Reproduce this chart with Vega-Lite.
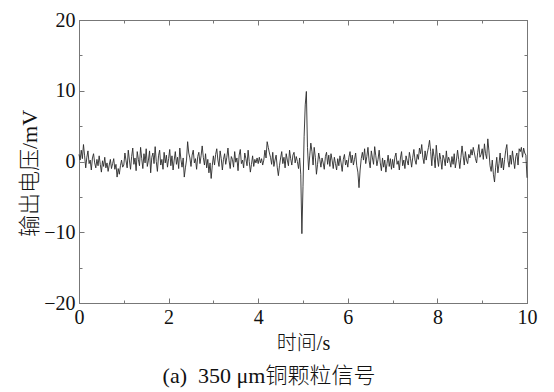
{
 "$schema": "https://vega.github.io/schema/vega-lite/v6.json",
 "width": 448, "height": 283,
 "autosize": "none",
 "padding": {"left": 79, "top": 20, "right": 27, "bottom": 89},
 "background": "white",
 "config": {
  "view": {"stroke": "#777", "strokeWidth": 1},
  "axis": {
   "grid": false, "domainColor": "#777", "tickColor": "#777",
   "labelFont": "Liberation Serif", "labelFontSize": 20, "labelColor": "#111",
   "titleFont": "Liberation Serif, Noto Sans CJK SC", "titleFontWeight": 300, "titleColor": "#111",
   "labelFlush": false, "labelOverlap": false
  }
 },
 "title": {"text": "(a)\u00a0\u00a0350\u00a0μm铜颗粒信号", "orient": "bottom", "anchor": "middle", "frame": "group", "dx": -34, "offset": 13,
  "font": "Liberation Serif, Noto Sans CJK SC", "fontSize": 22, "fontWeight": 300, "color": "#111"},
 "data": {"values": [
{"t":0,"v":1.0},{"t":0.025,"v":0.2},{"t":0.05,"v":1.6},{"t":0.075,"v":0.4},{"t":0.1,"v":2.4},{"t":0.125,"v":0.8},{"t":0.15,"v":-0.9},{"t":0.175,"v":0.6},{"t":0.2,"v":1.5},{"t":0.225,"v":-0.3},
{"t":0.25,"v":0.2},{"t":0.275,"v":-1.2},{"t":0.3,"v":0.5},{"t":0.325,"v":1.1},{"t":0.35,"v":-0.2},{"t":0.375,"v":-0.9},{"t":0.4,"v":0.3},{"t":0.425,"v":-0.6},{"t":0.45,"v":0.8},{"t":0.475,"v":-0.4},
{"t":0.5,"v":-1.5},{"t":0.525,"v":0.1},{"t":0.55,"v":-0.7},{"t":0.575,"v":0.6},{"t":0.6,"v":-0.9},{"t":0.625,"v":-0.2},{"t":0.65,"v":-1.4},{"t":0.675,"v":-0.5},{"t":0.7,"v":0.3},{"t":0.725,"v":-1.0},
{"t":0.75,"v":-0.3},{"t":0.775,"v":0.4},{"t":0.8,"v":-1.1},{"t":0.825,"v":-0.4},{"t":0.85,"v":-2.2},{"t":0.875,"v":-1.0},{"t":0.9,"v":-1.8},{"t":0.925,"v":-0.6},{"t":0.95,"v":0.2},{"t":0.975,"v":-0.8},
{"t":1,"v":-0.5},{"t":1.025,"v":1.2},{"t":1.05,"v":0.1},{"t":1.075,"v":-0.9},{"t":1.1,"v":1.6},{"t":1.125,"v":0.2},{"t":1.15,"v":-1.1},{"t":1.175,"v":0.7},{"t":1.2,"v":1.9},{"t":1.225,"v":-0.4},
{"t":1.25,"v":0.5},{"t":1.275,"v":-1.3},{"t":1.3,"v":1.4},{"t":1.325,"v":0.3},{"t":1.35,"v":-0.6},{"t":1.375,"v":2.0},{"t":1.4,"v":0.4},{"t":1.425,"v":-1.0},{"t":1.45,"v":1.1},{"t":1.475,"v":-0.2},
{"t":1.5,"v":1.8},{"t":1.525,"v":-0.7},{"t":1.55,"v":0.2},{"t":1.575,"v":1.5},{"t":1.6,"v":-1.6},{"t":1.625,"v":0.6},{"t":1.65,"v":1.2},{"t":1.675,"v":-0.3},{"t":1.7,"v":2.1},{"t":1.725,"v":0.0},
{"t":1.75,"v":-1.4},{"t":1.775,"v":0.8},{"t":1.8,"v":1.6},{"t":1.825,"v":-0.5},{"t":1.85,"v":0.3},{"t":1.875,"v":-1.1},{"t":1.9,"v":1.3},{"t":1.925,"v":-0.2},{"t":1.95,"v":0.9},{"t":1.975,"v":-0.8},
{"t":2,"v":0.4},{"t":2.025,"v":1.7},{"t":2.05,"v":-0.6},{"t":2.075,"v":0.8},{"t":2.1,"v":-1.2},{"t":2.125,"v":0.2},{"t":2.15,"v":1.4},{"t":2.175,"v":-0.4},{"t":2.2,"v":0.6},{"t":2.225,"v":-1.0},
{"t":2.25,"v":1.9},{"t":2.275,"v":0.3},{"t":2.3,"v":-0.8},{"t":2.325,"v":0.5},{"t":2.35,"v":-2.2},{"t":2.375,"v":-0.9},{"t":2.4,"v":0.2},{"t":2.425,"v":2.8},{"t":2.45,"v":1.2},{"t":2.475,"v":0.5},
{"t":2.5,"v":-0.7},{"t":2.525,"v":0.9},{"t":2.55,"v":1.6},{"t":2.575,"v":-0.2},{"t":2.6,"v":0.4},{"t":2.625,"v":-1.1},{"t":2.65,"v":0.7},{"t":2.675,"v":1.3},{"t":2.7,"v":-0.3},{"t":2.725,"v":0.8},
{"t":2.75,"v":2.2},{"t":2.775,"v":0.6},{"t":2.8,"v":-0.5},{"t":2.825,"v":1.1},{"t":2.85,"v":-0.9},{"t":2.875,"v":0.3},{"t":2.9,"v":-1.6},{"t":2.925,"v":-0.2},{"t":2.95,"v":-2.4},{"t":2.975,"v":-0.6},
{"t":3,"v":0.8},{"t":3.025,"v":-0.5},{"t":3.05,"v":1.0},{"t":3.075,"v":1.8},{"t":3.1,"v":0.2},{"t":3.125,"v":-0.7},{"t":3.15,"v":1.5},{"t":3.175,"v":0.4},{"t":3.2,"v":-1.2},{"t":3.225,"v":0.3},
{"t":3.25,"v":1.1},{"t":3.275,"v":-0.4},{"t":3.3,"v":0.6},{"t":3.325,"v":1.9},{"t":3.35,"v":0.1},{"t":3.375,"v":-1.0},{"t":3.4,"v":0.7},{"t":3.425,"v":0.3},{"t":3.45,"v":-0.8},{"t":3.475,"v":1.4},
{"t":3.5,"v":-0.1},{"t":3.525,"v":0.5},{"t":3.55,"v":-1.3},{"t":3.575,"v":0.9},{"t":3.6,"v":1.7},{"t":3.625,"v":-0.3},{"t":3.65,"v":0.2},{"t":3.675,"v":-0.9},{"t":3.7,"v":1.2},{"t":3.725,"v":0.4},
{"t":3.75,"v":-0.6},{"t":3.775,"v":1.6},{"t":3.8,"v":0.0},{"t":3.825,"v":-1.5},{"t":3.85,"v":-0.4},{"t":3.875,"v":0.8},{"t":3.9,"v":-0.7},{"t":3.925,"v":0.3},{"t":3.95,"v":-0.2},{"t":3.975,"v":0.5},
{"t":4,"v":-0.3},{"t":4.025,"v":0.6},{"t":4.05,"v":-0.2},{"t":4.075,"v":0.4},{"t":4.1,"v":-0.5},{"t":4.125,"v":0.2},{"t":4.15,"v":1.6},{"t":4.175,"v":0.5},{"t":4.2,"v":2.8},{"t":4.225,"v":2.0},
{"t":4.25,"v":1.2},{"t":4.275,"v":0.6},{"t":4.3,"v":-0.4},{"t":4.325,"v":1.3},{"t":4.35,"v":-0.7},{"t":4.375,"v":0.2},{"t":4.4,"v":0.9},{"t":4.425,"v":-0.8},{"t":4.45,"v":-2.0},{"t":4.475,"v":-0.6},
{"t":4.5,"v":0.5},{"t":4.525,"v":1.4},{"t":4.55,"v":-0.3},{"t":4.575,"v":0.6},{"t":4.6,"v":-0.9},{"t":4.625,"v":1.1},{"t":4.65,"v":0.2},{"t":4.675,"v":-0.6},{"t":4.7,"v":1.6},{"t":4.725,"v":0.4},
{"t":4.75,"v":-0.5},{"t":4.775,"v":0.9},{"t":4.8,"v":1.3},{"t":4.825,"v":-0.2},{"t":4.85,"v":0.7},{"t":4.875,"v":0.0},{"t":4.9,"v":-1.0},{"t":4.925,"v":0.5},{"t":4.95,"v":-1.8},{"t":4.975,"v":-10.2},
{"t":5,"v":-3.5},{"t":5.025,"v":3.5},{"t":5.05,"v":8.0},{"t":5.075,"v":9.9},{"t":5.1,"v":2.0},{"t":5.125,"v":-1.2},{"t":5.15,"v":0.8},{"t":5.175,"v":2.6},{"t":5.2,"v":1.4},{"t":5.225,"v":-0.5},
{"t":5.25,"v":2.0},{"t":5.275,"v":0.6},{"t":5.3,"v":-1.8},{"t":5.325,"v":-0.4},{"t":5.35,"v":1.2},{"t":5.375,"v":0.3},{"t":5.4,"v":-0.8},{"t":5.425,"v":0.5},{"t":5.45,"v":-0.2},{"t":5.475,"v":-1.1},
{"t":5.5,"v":0.7},{"t":5.525,"v":1.3},{"t":5.55,"v":-0.4},{"t":5.575,"v":0.9},{"t":5.6,"v":-0.7},{"t":5.625,"v":1.1},{"t":5.65,"v":0.2},{"t":5.675,"v":-1.0},{"t":5.7,"v":0.6},{"t":5.725,"v":-0.3},
{"t":5.75,"v":-1.2},{"t":5.775,"v":0.4},{"t":5.8,"v":-0.6},{"t":5.825,"v":0.8},{"t":5.85,"v":-0.2},{"t":5.875,"v":-1.4},{"t":5.9,"v":0.3},{"t":5.925,"v":1.0},{"t":5.95,"v":-0.5},{"t":5.975,"v":0.2},
{"t":6,"v":-0.8},{"t":6.025,"v":0.6},{"t":6.05,"v":1.4},{"t":6.075,"v":-0.2},{"t":6.1,"v":0.9},{"t":6.125,"v":-0.5},{"t":6.15,"v":0.3},{"t":6.175,"v":1.2},{"t":6.2,"v":-0.6},{"t":6.225,"v":-1.5},
{"t":6.25,"v":-3.7},{"t":6.275,"v":-1.2},{"t":6.3,"v":0.4},{"t":6.325,"v":1.3},{"t":6.35,"v":0.2},{"t":6.375,"v":1.8},{"t":6.4,"v":-0.3},{"t":6.425,"v":0.7},{"t":6.45,"v":2.0},{"t":6.475,"v":0.1},
{"t":6.5,"v":-0.9},{"t":6.525,"v":1.5},{"t":6.55,"v":0.5},{"t":6.575,"v":-0.4},{"t":6.6,"v":2.1},{"t":6.625,"v":0.8},{"t":6.65,"v":-0.6},{"t":6.675,"v":0.3},{"t":6.7,"v":1.6},{"t":6.725,"v":-0.2},
{"t":6.75,"v":-1.3},{"t":6.775,"v":0.5},{"t":6.8,"v":-0.8},{"t":6.825,"v":0.2},{"t":6.85,"v":-1.5},{"t":6.875,"v":-0.3},{"t":6.9,"v":0.9},{"t":6.925,"v":-0.7},{"t":6.95,"v":0.4},{"t":6.975,"v":-1.1},
{"t":7,"v":0.3},{"t":7.025,"v":-0.9},{"t":7.05,"v":0.6},{"t":7.075,"v":1.2},{"t":7.1,"v":-0.4},{"t":7.125,"v":0.1},{"t":7.15,"v":-1.2},{"t":7.175,"v":0.5},{"t":7.2,"v":1.4},{"t":7.225,"v":-0.6},
{"t":7.25,"v":0.2},{"t":7.275,"v":-1.0},{"t":7.3,"v":0.8},{"t":7.325,"v":0.1},{"t":7.35,"v":-0.5},{"t":7.375,"v":1.3},{"t":7.4,"v":0.4},{"t":7.425,"v":-0.8},{"t":7.45,"v":0.6},{"t":7.475,"v":1.7},
{"t":7.5,"v":0.2},{"t":7.525,"v":-0.4},{"t":7.55,"v":1.0},{"t":7.575,"v":0.3},{"t":7.6,"v":1.9},{"t":7.625,"v":1.1},{"t":7.65,"v":2.4},{"t":7.675,"v":0.6},{"t":7.7,"v":-0.3},{"t":7.725,"v":1.5},
{"t":7.75,"v":0.2},{"t":7.775,"v":1.2},{"t":7.8,"v":2.0},{"t":7.825,"v":3.0},{"t":7.85,"v":1.4},{"t":7.875,"v":-0.6},{"t":7.9,"v":1.8},{"t":7.925,"v":0.7},{"t":7.95,"v":-0.9},{"t":7.975,"v":2.3},
{"t":8,"v":0.5},{"t":8.025,"v":-0.7},{"t":8.05,"v":1.2},{"t":8.075,"v":0.3},{"t":8.1,"v":-1.1},{"t":8.125,"v":0.9},{"t":8.15,"v":0.4},{"t":8.175,"v":-0.6},{"t":8.2,"v":1.5},{"t":8.225,"v":-0.2},
{"t":8.25,"v":0.6},{"t":8.275,"v":0.1},{"t":8.3,"v":-0.8},{"t":8.325,"v":0.7},{"t":8.35,"v":-0.4},{"t":8.375,"v":1.1},{"t":8.4,"v":-0.9},{"t":8.425,"v":0.2},{"t":8.45,"v":1.6},{"t":8.475,"v":0.3},
{"t":8.5,"v":-1.0},{"t":8.525,"v":0.6},{"t":8.55,"v":2.2},{"t":8.575,"v":0.8},{"t":8.6,"v":-0.5},{"t":8.625,"v":1.4},{"t":8.65,"v":0.2},{"t":8.675,"v":-0.3},{"t":8.7,"v":1.0},{"t":8.725,"v":0.5},
{"t":8.75,"v":1.7},{"t":8.775,"v":0.9},{"t":8.8,"v":2.0},{"t":8.825,"v":1.2},{"t":8.85,"v":0.4},{"t":8.875,"v":-0.2},{"t":8.9,"v":1.3},{"t":8.925,"v":2.4},{"t":8.95,"v":0.6},{"t":8.975,"v":1.0},
{"t":9,"v":1.8},{"t":9.025,"v":0.3},{"t":9.05,"v":2.5},{"t":9.075,"v":1.1},{"t":9.1,"v":0.4},{"t":9.125,"v":3.2},{"t":9.15,"v":1.5},{"t":9.175,"v":-0.6},{"t":9.2,"v":-1.4},{"t":9.225,"v":0.2},
{"t":9.25,"v":-1.8},{"t":9.275,"v":-2.9},{"t":9.3,"v":-0.8},{"t":9.325,"v":0.6},{"t":9.35,"v":-1.6},{"t":9.375,"v":-0.3},{"t":9.4,"v":1.2},{"t":9.425,"v":-0.9},{"t":9.45,"v":0.5},{"t":9.475,"v":-1.2},
{"t":9.5,"v":0.3},{"t":9.525,"v":1.6},{"t":9.55,"v":2.4},{"t":9.575,"v":0.1},{"t":9.6,"v":-0.8},{"t":9.625,"v":0.9},{"t":9.65,"v":-0.4},{"t":9.675,"v":1.5},{"t":9.7,"v":0.2},{"t":9.725,"v":-1.0},
{"t":9.75,"v":0.7},{"t":9.775,"v":1.2},{"t":9.8,"v":-0.5},{"t":9.825,"v":1.8},{"t":9.85,"v":1.4},{"t":9.875,"v":2.0},{"t":9.9,"v":0.6},{"t":9.925,"v":1.9},{"t":9.95,"v":1.2},{"t":9.975,"v":0.9},
{"t":10,"v":-2.3}
 ]},
 "layer": [
  {
   "mark": {"type": "line", "color": "#2a2a2a", "strokeWidth": 0.9},
   "encoding": {
    "x": {"field": "t", "type": "quantitative", "scale": {"domain": [0, 10], "nice": false},
     "axis": {"orient": "bottom", "title": "时间/s", "titleFontSize": 20, "titlePadding": 4,
      "values": [0,1,2,3,4,5,6,7,8,9,10],
      "labelExpr": "datum.value % 2 === 0 ? datum.label : ''",
      "tickSize": {"condition": {"test": "datum.value % 2 === 0", "value": -5}, "value": -3},
      "labelPadding": 9}},
    "y": {"field": "v", "type": "quantitative", "scale": {"domain": [-20, 20], "nice": false},
     "axis": {"orient": "left", "title": "输出电压/mV", "titleFontSize": 22,
      "values": [-20,-15,-10,-5,0,5,10,15,20],
      "labelExpr": "datum.value % 10 === 0 ? datum.label : ''",
      "tickSize": {"condition": {"test": "datum.value % 10 === 0", "value": -5}, "value": -3},
      "labelPadding": 9,
      "titleX": -50, "titleY": 153, "titleAngle": 270, "titleBaseline": "middle", "titleAlign": "center"}}
   }
  },
  {
   "mark": {"type": "line", "strokeOpacity": 0},
   "encoding": {
    "x": {"field": "t", "type": "quantitative",
     "axis": {"orient": "top", "title": null, "labels": false,
      "values": [0,1,2,3,4,5,6,7,8,9,10],
      "tickSize": {"condition": {"test": "datum.value % 2 === 0", "value": -5}, "value": -3}}},
    "y": {"field": "v", "type": "quantitative",
     "axis": {"orient": "right", "title": null, "labels": false,
      "values": [-20,-15,-10,-5,0,5,10,15,20],
      "tickSize": {"condition": {"test": "datum.value % 10 === 0", "value": -5}, "value": -3}}}
   }
  }
 ],
 "resolve": {"axis": {"x": "independent", "y": "independent"}}
}
